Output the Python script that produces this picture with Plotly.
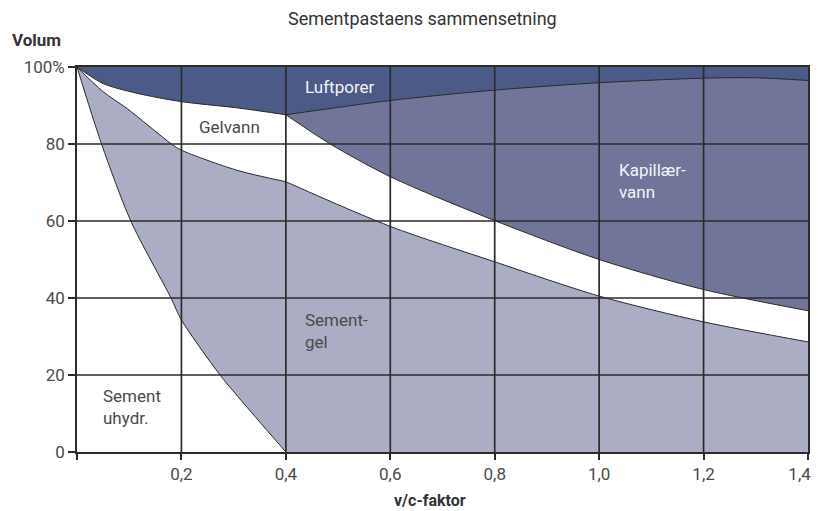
import plotly.graph_objects as go

# ---- data ----
uhydr_x = [0, 0.047, 0.103, 0.18, 0.2, 0.274, 0.341, 0.4]
uhydr_y = [100, 80, 60, 40, 34.3, 20, 9.2, 0]

gel_left_x = [0, 0.05, 0.096, 0.181, 0.2, 0.306, 0.4]
gel_left_y = [100, 93.6, 89.2, 80, 78.4, 73.2, 70.2]
gel_right_x = [0.4, 0.6, 0.8, 1.0, 1.2, 1.4]
gel_right_y = [70.2, 58.6, 49.4, 40.5, 33.8, 28.6]

gelvann_top_x = [0, 0.05, 0.114, 0.2, 0.306, 0.4]
gelvann_top_y = [100, 95.7, 93.2, 91.0, 89.4, 87.6]

kap_top_x = [0.4, 0.6, 0.8, 1.0, 1.2, 1.3, 1.4]
kap_top_y = [87.6, 91.3, 94.0, 95.9, 97.1, 97.2, 96.5]

kap_bot_x = [0.4, 0.485, 0.6, 0.8, 1.0, 1.2, 1.4]
kap_bot_y = [87.6, 80, 71.5, 60.1, 50.0, 42.2, 36.7]

x_ticks = [0, 0.2, 0.4, 0.6, 0.8, 1.0, 1.2, 1.4]
# the last label gets trailing no-break spaces so it sits inside the window edge
x_labels = ["", "0,2", "0,4", "0,6", "0,8", "1,0", "1,2", "1,4\u00a0\u00a0\u00a0\u00a0"]
y_ticks = [0, 20, 40, 60, 80, 100]
y_labels = ["0", "20", "40", "60", "80", "100%"]

region_labels = ["Luftporer", "Gelvann", "Kapillær-<br>vann", "Sement-<br>gel", "Sement<br>uhydr."]
label_x = [0.502, 0.293, 1.034, 0.433, 0.046]
label_y = [94.8, 84.4, 70.5, 31.5, 11.8]

# ---- styles ----
C_LUFT = "#4b5a87"
C_KAP = "#707599"
C_GEL = "#aaadc3"
C_WHITE = "#ffffff"
C_LINE = "#2b2b2b"
C_TEXT = "#4a4a4a"
FONT = "Roboto"

fig = go.Figure()

def add_fill(x, y, color, line=True):
    fig.add_trace(go.Scatter(
        x=x, y=y, mode="lines", fill="tozeroy", fillcolor=color,
        line=dict(color=C_LINE if line else color, width=1 if line else 0, shape="spline", smoothing=0.8),
        hoverinfo="skip", showlegend=False))

# full background = luftporer
add_fill([x_ticks[0], x_ticks[-1]], [y_ticks[-1], y_ticks[-1]], C_LUFT, line=False)
add_fill(gelvann_top_x, gelvann_top_y, C_WHITE)
add_fill(kap_top_x, kap_top_y, C_KAP)
add_fill(kap_bot_x, kap_bot_y, C_WHITE)
add_fill(gel_left_x, gel_left_y, C_GEL)
add_fill(gel_right_x, gel_right_y, C_GEL)
add_fill(uhydr_x, uhydr_y, C_WHITE)

# grid lines on top of the fills
shapes = []
for xv in x_ticks[1:-1]:
    shapes.append(dict(type="line", xref="x", yref="y", x0=xv, x1=xv, y0=y_ticks[0], y1=y_ticks[-1],
                       line=dict(color=C_LINE, width=1.7), layer="above"))
for yv in y_ticks[1:-1]:
    shapes.append(dict(type="line", xref="x", yref="y", x0=x_ticks[0], x1=x_ticks[-1], y0=yv, y1=yv,
                       line=dict(color=C_LINE, width=1.7), layer="above"))

annotations = []
for i, (t, lx, ly) in enumerate(zip(region_labels, label_x, label_y)):
    white = i in (0, 2)
    centered = i in (0, 1)
    annotations.append(dict(
        x=lx, y=ly, xref="x", yref="y", text=t, showarrow=False,
        xanchor="center" if centered else "left", yanchor="middle", align="left",
        font=dict(family=FONT, size=17, color="#f4f4f8" if white else C_TEXT)))

annotations += [
    dict(text="Sementpastaens sammensetning", x=0.472, y=1.127, xref="paper", yref="paper",
         showarrow=False, xanchor="center", yanchor="middle",
         font=dict(family=FONT, size=18, color="#333333")),
    dict(text="<b>Volum</b>", x=-0.092, y=1.07, xref="paper", yref="paper",
         showarrow=False, xanchor="left", yanchor="middle",
         font=dict(family=FONT, size=17, color="#333333")),
    dict(text="<b>v/c-faktor</b>", x=0.483, y=-0.125, xref="paper", yref="paper",
         showarrow=False, xanchor="center", yanchor="middle",
         font=dict(family=FONT, size=16, color="#333333")),
]

# the page body adds an 8px offset, so the figure is sized to fit the window
fig.update_layout(
    width=811, height=503,
    margin=dict(l=69, r=11, t=59, b=59, autoexpand=False),
    paper_bgcolor="white", plot_bgcolor="white",
    shapes=shapes, annotations=annotations,
    xaxis=dict(range=[x_ticks[0], x_ticks[-1]], tickvals=x_ticks, ticktext=x_labels,
               showgrid=False, zeroline=False, showline=True, mirror=True, automargin=False,
               ticklabeloverflow="allow",
               linecolor=C_LINE, linewidth=1.7, ticks="outside", ticklen=6,
               tickcolor=C_LINE, tickwidth=1.7, layer="above traces",
               tickfont=dict(family=FONT, size=17, color=C_TEXT)),
    yaxis=dict(range=[y_ticks[0], y_ticks[-1]], tickvals=y_ticks, ticktext=y_labels,
               showgrid=False, zeroline=False, showline=True, mirror=True, automargin=False,
               ticklabeloverflow="allow",
               linecolor=C_LINE, linewidth=1.7, ticks="outside", ticklen=7,
               tickcolor=C_LINE, tickwidth=1.7, layer="above traces",
               tickfont=dict(family=FONT, size=17, color=C_TEXT)),
)

fig.write_html("out.html")
